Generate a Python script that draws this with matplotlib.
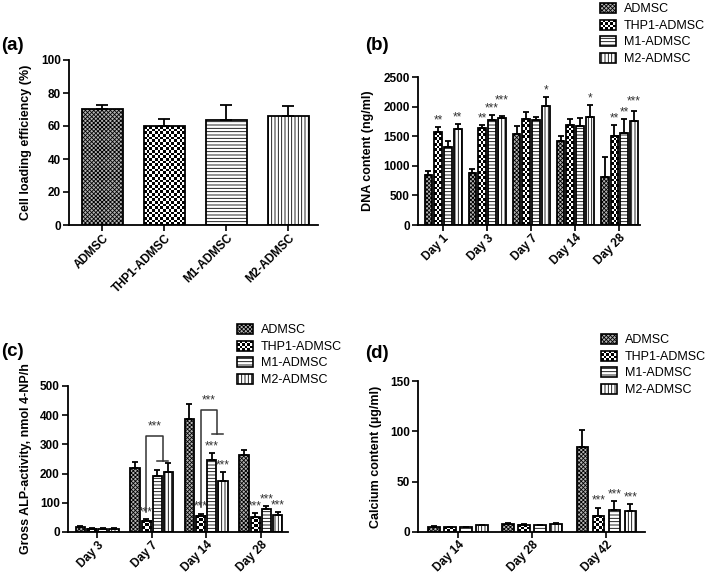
import numpy as np
import matplotlib
matplotlib.use('Agg')
import matplotlib.pyplot as plt
from matplotlib.patches import Rectangle, Patch
from matplotlib.legend_handler import HandlerBase

# --- data ---
series = ['ADMSC', 'THP1-ADMSC', 'M1-ADMSC', 'M2-ADMSC']

# (a) cell loading efficiency
eff_mean = [70.5, 60.0, 63.5, 66.0]
eff_err = [2.5, 4.5, 9.5, 6.0]

# (b) DNA content, rows = series
dna_days = ['Day 1', 'Day 3', 'Day 7', 'Day 14', 'Day 28']
dna_mean = [[846, 875, 1541, 1411, 818],
            [1563, 1631, 1789, 1682, 1507],
            [1315, 1766, 1766, 1665, 1552],
            [1625, 1811, 2003, 1823, 1761]]
dna_err = [[74, 73, 124, 96, 339],
           [96, 62, 118, 113, 175],
           [96, 85, 57, 135, 243],
           [79, 23, 158, 203, 169]]
dna_stars = [['', '', '', '', ''],
             ['**', '**', '', '', '**'],
             ['', '***', '', '', '**'],
             ['**', '***', '*', '*', '***']]
# extra lift (points) for stars that sit above a neighbour's
dna_star_lift = [[0, 0, 0, 0, 0],
                 [0, 0, 0, 0, 0],
                 [0, 0, 0, 0, 0],
                 [0, 7, 0, 0, 2]]

# (c) ALP activity
alp_days = ['Day 3', 'Day 7', 'Day 14', 'Day 28']
alp_mean = [[17, 220, 388, 262],
            [11, 38, 56, 51],
            [10, 193, 248, 80],
            [10, 205, 176, 57]]
alp_err = [[3, 19, 49, 18],
           [2, 7, 7, 14],
           [2, 18, 23, 10],
           [2, 30, 29, 11]]
alp_stars = [['', '', '', ''],
             ['', '***', '***', '***'],
             ['', '', '***', '***'],
             ['', '', '***', '***']]
# brackets THP1 vs M1/M2: group index, top, drop
alp_bracket_group = [1, 2]
alp_bracket_top = [330, 419]
alp_bracket_drop = [243, 335]

# (d) calcium content
ca_days = ['Day 14', 'Day 28', 'Day 42']
ca_mean = [[5.0, 8.0, 84.6],
           [4.6, 7.3, 16.3],
           [4.6, 6.6, 21.6],
           [6.6, 8.0, 20.6]]
ca_err = [[0.5, 0.8, 17],
          [0.4, 0.6, 8],
          [0.4, 0.5, 9.5],
          [0.4, 0.7, 7.5]]
ca_stars = [['', '', ''],
            ['', '', '***'],
            ['', '', '***'],
            ['', '', '***']]

plt.rcParams['font.family'] = ['Liberation Sans', 'DejaVu Sans']
plt.rcParams['hatch.linewidth'] = 0.6

W, H = 709, 574
fig = plt.figure(figsize=(W / 100, H / 100), dpi=100)

EDGE = 1.3
CELL = 2.7  # checker cell, px
hatches = ['xxxxxxxx', None, '-----', '|||||']
faces = ['#b4b4b4', None, 'white', 'white']
STAR_COL = '#333333'


def px_axes(l, t, r, b):
    return fig.add_axes([l / W, 1 - b / H, (r - l) / W, (b - t) / H])


def checker_fill(ax, x0, w, h):
    p0 = ax.transData.transform((x0, 0))
    p1 = ax.transData.transform((x0 + w, h))
    ncol = max(1, int(round(abs(p1[0] - p0[0]) / CELL)))
    nrow = max(1, int(round(abs(p1[1] - p0[1]) / CELL)))
    arr = (np.add.outer(np.arange(nrow), np.arange(ncol)) % 2).astype(float)
    ax.imshow(arr, cmap='gray', vmin=0, vmax=1, extent=(x0, x0 + w, 0, h),
              interpolation='nearest', aspect='auto', zorder=1)


def draw_bars(ax, x, heights, errs, width, k, capsize):
    if hatches[k] is None:
        for xi, hi in zip(x, heights):
            checker_fill(ax, xi - width / 2, width, hi)
        ax.bar(x, heights, width, fill=False, edgecolor='black', linewidth=EDGE, zorder=2)
    else:
        ax.bar(x, heights, width, color=faces[k], edgecolor='black', hatch=hatches[k],
               linewidth=EDGE, zorder=2)
    ax.errorbar(x, heights, yerr=[np.zeros(len(heights)), errs], fmt='none', ecolor='black',
                elinewidth=EDGE, capsize=capsize, capthick=EDGE, zorder=3)


def style_axes(ax, ylabel, labelx):
    for s in ['top', 'right']:
        ax.spines[s].set_visible(False)
    for s in ['left', 'bottom']:
        ax.spines[s].set_linewidth(1.3)
    ax.tick_params(direction='out', length=4, width=1.2, labelsize=8.5, pad=2)
    ax.tick_params(axis='x', pad=1)
    for lab in ax.get_yticklabels():
        lab.set_fontweight('bold')
    for lab in ax.get_xticklabels():
        lab.set_fontweight('bold')
        lab.set_rotation(45)
        lab.set_ha('right')
        lab.set_rotation_mode('anchor')
        lab.set_fontsize(8.5)
    ax.set_ylabel(ylabel, fontsize=9, fontweight='bold')
    ax.yaxis.set_label_coords(labelx, 0.5)


def put_stars(ax, x, tops, stars, lifts=None):
    if lifts is None:
        lifts = [0] * len(stars)
    for xi, ti, s, lf in zip(x, tops, stars, lifts):
        if s:
            ax.annotate(s, (xi, ti), xytext=(0, 0.5 + lf), textcoords='offset points',
                        ha='center', va='bottom', fontsize=8.5, color=STAR_COL)


class CheckerHandler(HandlerBase):
    def legend_artist(self, legend, orig_handle, fontsize, handlebox):
        x0, y0 = -handlebox.xdescent, -handlebox.ydescent
        w, h = handlebox.width, handlebox.height
        c = CELL * 0.72
        nx, ny = int(round(w / c)), int(round(h / c))
        for i in range(nx):
            for j in range(ny):
                if (i + j) % 2 == 0:
                    handlebox.add_artist(Rectangle((x0 + i * w / nx, y0 + j * h / ny), w / nx, h / ny,
                                                   facecolor='black', edgecolor='none'))
        frame = Rectangle((x0, y0), w, h, facecolor='none', edgecolor='black', linewidth=1.2)
        handlebox.add_artist(frame)
        return frame


def add_legend(x, y):
    handles = []
    for k in range(4):
        if hatches[k] is None:
            handles.append(Patch(facecolor='white', edgecolor='black', label=series[k]))
        else:
            handles.append(Patch(facecolor=faces[k], edgecolor='black', hatch=hatches[k],
                                 linewidth=1.2, label=series[k]))
    fig.legend(handles=handles, loc='upper left', bbox_to_anchor=(x / W, 1 - y / H),
               frameon=False, fontsize=9, borderpad=0, borderaxespad=0,
               handlelength=1.25, handleheight=0.85, handletextpad=0.65, labelspacing=0.34,
               handler_map={handles[1]: CheckerHandler()})


def grouped_panel(ax, days, mean, err, stars, pitch, width, xlim, ylim, yticks, capsize, lifts=None):
    ax.set_xlim(*xlim)
    ax.set_ylim(*ylim)
    g = np.arange(len(days))
    for k in range(4):
        x = g + (k - 1.5) * pitch
        draw_bars(ax, x, mean[k], err[k], width, k, capsize)
        put_stars(ax, x, np.array(mean[k]) + np.array(err[k]), stars[k],
                  None if lifts is None else lifts[k])
    ax.set_xlim(*xlim)
    ax.set_ylim(*ylim)
    ax.set_xticks(g)
    ax.set_xticklabels(days)
    ax.set_yticks(yticks)
    return g


# (a)
ax_a = px_axes(69, 60, 318, 225)
ax_a.set_xlim(-0.54, 3.48)
ax_a.set_ylim(0, 100)
xa = np.arange(4)
for k in range(4):
    draw_bars(ax_a, [xa[k]], [eff_mean[k]], [eff_err[k]], 0.66, k, 4.3)
ax_a.set_xlim(-0.54, 3.48)
ax_a.set_ylim(0, 100)
ax_a.set_xticks(xa)
ax_a.set_xticklabels(series)
ax_a.set_yticks(range(0, 101, 20))
style_axes(ax_a, 'Cell loading efficiency (%)', -0.15)

# (b)
ax_b = px_axes(418, 77, 640, 225)
grouped_panel(ax_b, dna_days, dna_mean, dna_err, dna_stars, 0.222, 0.176,
              (-0.57, 4.47), (0, 2500), range(0, 2501, 500), 2.2, dna_star_lift)
style_axes(ax_b, 'DNA content (ng/ml)', -0.2)
add_legend(600, 3)

# (c)
ax_c = px_axes(68, 386, 288, 532)
gc = grouped_panel(ax_c, alp_days, alp_mean, alp_err, alp_stars, 0.205, 0.168,
                   (-0.535, 3.5), (0, 500), range(0, 501, 100), 2.2)
pc = 0.205
for gi, top, drop in zip(alp_bracket_group, alp_bracket_top, alp_bracket_drop):
    xl = gi - 0.5 * pc
    xm1, xm2 = gi + 0.5 * pc, gi + 1.5 * pc
    xr = (xm1 + xm2) / 2
    low = alp_mean[1][gi] + alp_err[1][gi] + 22
    ax_c.plot([xl, xl, xr, xr], [low, top, top, drop], color=STAR_COL, lw=1.1, zorder=4)
    ax_c.plot([xm1, xm2], [drop, drop], color=STAR_COL, lw=1.1, zorder=4)
    ax_c.text((xl + xr) / 2, top + 12, '***', ha='center', va='bottom', fontsize=8.5, color=STAR_COL)
style_axes(ax_c, 'Gross ALP-activity, nmol 4-NP/h', -0.165)
add_legend(237, 324)

# (d)
ax_d = px_axes(418, 381, 645, 532)
grouped_panel(ax_d, ca_days, ca_mean, ca_err, ca_stars, 0.216, 0.157,
              (-0.54, 2.52), (0, 150), range(0, 151, 50), 2.2)
style_axes(ax_d, 'Calcium content (\u00b5g/ml)', -0.16)
add_legend(601, 334)

# panel letters
for lab, x, y in [('(a)', 1, 46), ('(b)', 365, 45), ('(c)', 1, 352), ('(d)', 365, 354)]:
    fig.text(x / W, 1 - y / H, lab, fontsize=13.5, fontweight='bold', va='center', ha='left')

fig.savefig('out.png', dpi=100)
